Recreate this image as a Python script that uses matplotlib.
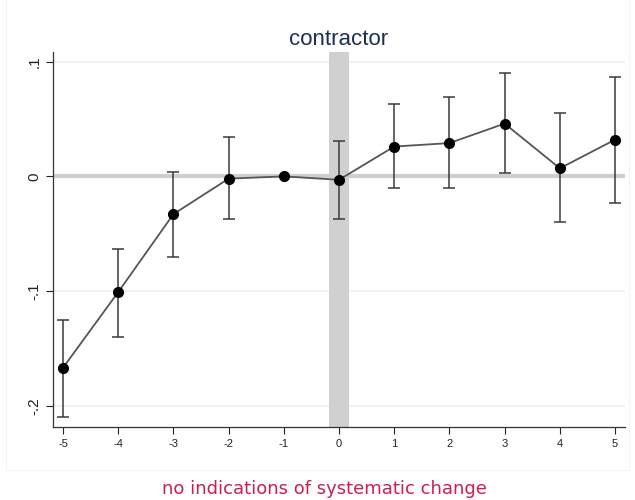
import matplotlib.pyplot as plt
from matplotlib.patches import Rectangle

# event-time coefficients with 95% confidence bounds (-1 is the omitted period)
periods = [-5, -4, -3, -2, -1, 0, 1, 2, 3, 4, 5]
coef = [-0.167, -0.101, -0.033, -0.002, 0.0, -0.003, 0.026, 0.029, 0.046, 0.007, 0.032]
ci_low = [-0.210, -0.140, -0.070, -0.037, None, -0.037, -0.010, -0.010, 0.003, -0.040, -0.023]
ci_high = [-0.125, -0.063, 0.004, 0.034, None, 0.031, 0.063, 0.069, 0.090, 0.055, 0.087]
ytick_vals = [-0.2, -0.1, 0, 0.1]
ytick_labels = ['-.2', '-.1', '0', '.1']

fig = plt.figure(figsize=(6.35, 5), dpi=100)
plt.rcParams['font.family'] = ['Liberation Sans', 'DejaVu Sans']

# faint frame of the graph region
fig.patches.append(Rectangle((6 / 635, 30 / 500), 623 / 635, 475 / 500, transform=fig.transFigure,
                             fill=False, ec='#f4f4f4', lw=0.8))

ax = fig.add_axes([53 / 635, 73.3 / 500, 572 / 635, 375 / 500])

# grid and reference lines
for y in ytick_vals:
    ax.axhline(y, color='#eaf0f2', lw=1.2, zorder=0)
ax.axhline(0, color='#cfcfcf', lw=3, zorder=1)
ax.axvspan(-0.18, 0.18, color='#d0d0d0', lw=0, zorder=1)

# confidence intervals (skip the reference period)
err_x = [p for p, lo in zip(periods, ci_low) if lo is not None]
err_y = [c for c, lo in zip(coef, ci_low) if lo is not None]
err_lo = [c - lo for c, lo in zip(coef, ci_low) if lo is not None]
err_hi = [hi - c for c, hi in zip(coef, ci_high) if hi is not None]
ax.errorbar(err_x, err_y, yerr=[err_lo, err_hi], fmt='none', ecolor='#3a3a3a',
            elinewidth=1.1, capsize=4, capthick=1.1, zorder=2)

ax.plot(periods, coef, color='#555555', lw=1.3, zorder=3)
ax.plot(periods, coef, 'o', color='black', ms=7, zorder=4)

ax.set_xlim(-5.18, 5.18)
ax.set_ylim(-0.2183, 0.1087)
ax.set_xticks(periods)
ax.set_xticklabels([str(p) for p in periods], fontsize=8)
ax.set_yticks(ytick_vals)
ax.set_yticklabels(ytick_labels, fontsize=11, rotation=90, va='center')
ax.tick_params(axis='both', direction='out', length=5, width=0.8, colors='#222222')

for side in ['top', 'right']:
    ax.spines[side].set_visible(False)
for side in ['left', 'bottom']:
    ax.spines[side].set_color('#333333')
    ax.spines[side].set_linewidth(0.9)

ax.set_title('contractor', fontsize=16, color='#1c2f55', pad=5)

fig.text(324 / 635, 11 / 500, 'no indications of systematic change', ha='center', va='center',
         fontsize=13, color='#cc1f4f', family=['DejaVu Sans'])

fig.savefig('out.png', dpi=100)
